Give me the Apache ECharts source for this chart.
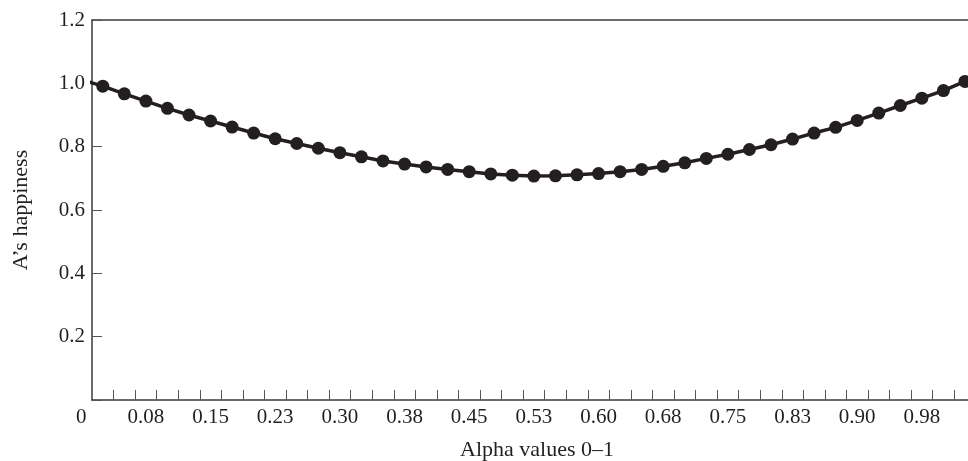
<!DOCTYPE html>
<html><head><meta charset="utf-8">
<script src="https://cdn.jsdelivr.net/npm/echarts@6/dist/echarts.min.js"></script>
<style>html,body{margin:0;padding:0;background:#fff}#c{width:968px;height:461px}</style>
</head><body><div id="c"></div>
<script>
// alpha value of each point (first one has no marker, line starts at the axis)
const alphaValues = [0, 0.025, 0.05, 0.075, 0.1, 0.125, 0.15, 0.175, 0.2, 0.225, 0.25,
  0.275, 0.3, 0.325, 0.35, 0.375, 0.4, 0.425, 0.45, 0.475, 0.5,
  0.525, 0.55, 0.575, 0.6, 0.625, 0.65, 0.675, 0.7, 0.725, 0.75,
  0.775, 0.8, 0.825, 0.85, 0.875, 0.9, 0.925, 0.95, 0.975, 1.0, 1.025];
const happiness = [1.012, 0.991, 0.967, 0.944, 0.921, 0.900, 0.881, 0.862, 0.843, 0.825, 0.810,
  0.795, 0.781, 0.768, 0.755, 0.745, 0.736, 0.728, 0.721, 0.714, 0.710,
  0.707, 0.708, 0.711, 0.715, 0.721, 0.728, 0.738, 0.749, 0.763, 0.776,
  0.791, 0.806, 0.824, 0.843, 0.861, 0.883, 0.906, 0.930, 0.953, 0.977, 1.006];
const xLabelValues = [0, 0.075, 0.15, 0.225, 0.3, 0.375, 0.45, 0.525, 0.6, 0.675, 0.75, 0.825, 0.9, 0.975];
const xLabelTexts = ['0', '0.08', '0.15', '0.23', '0.30', '0.38', '0.45', '0.53', '0.60', '0.68', '0.75', '0.83', '0.90', '0.98'];
const yLabelValues = [0, 0.2, 0.4, 0.6, 0.8, 1.0, 1.2];
const yLabelTexts = ['', '0.2', '0.4', '0.6', '0.8', '1.0', '1.2'];
const xName = 'Alpha values 0\u20131';
const yName = 'A\u2019s happiness';

const FONT = '"Liberation Serif", "Times New Roman", serif';
const TXT = '#231f20';
const AX = '#3a3a3a';

// tick marks sit at the boundaries between the points
const xTickValues = [];
for (let i = 1; i < alphaValues.length - 1; i++) xTickValues.push((alphaValues[i] + alphaValues[i + 1]) / 2);

const seriesData = alphaValues.map((a, i) => i === 0 ? { value: [a, happiness[i]], symbol: 'none' } : [a, happiness[i]]);

const chart = echarts.init(document.getElementById('c'), null, { renderer: 'canvas' });
const xMin = 0.0125, xMax = 1.0285;
chart.setOption({
  animation: false,
  backgroundColor: '#ffffff',
  grid: { left: 92, right: 0, top: 20, bottom: 61, outerBoundsMode: 'none', containLabel: false },
  xAxis: [{
    type: 'value', min: xMin, max: xMax, position: 'bottom',
    name: xName, nameLocation: 'middle', nameGap: 39,
    nameTextStyle: { fontFamily: FONT, fontSize: 22, color: TXT, padding: [0, 0, 0, 14] },
    axisLine: { show: true, lineStyle: { color: AX, width: 1.5 } },
    axisTick: { show: true, inside: true, length: 10, customValues: xTickValues, lineStyle: { color: '#555', width: 1 } },
    axisLabel: {
      show: true, customValues: xLabelValues.slice(1), margin: 7,
      fontFamily: FONT, fontSize: 21, color: TXT,
      formatter: v => { let best = 0; xLabelValues.forEach((x, i) => { if (Math.abs(x - v) < Math.abs(xLabelValues[best] - v)) best = i; }); return xLabelTexts[best]; }
    },
    splitLine: { show: false }
  }, {
    type: 'value', min: xMin, max: xMax, position: 'top',
    axisLine: { show: true, lineStyle: { color: AX, width: 1.5 } },
    axisTick: { show: false }, axisLabel: { show: false }, splitLine: { show: false }
  }],
  yAxis: {
    type: 'value', min: 0, max: 1.2, interval: 0.2,
    name: yName, nameLocation: 'middle', nameGap: 60, nameRotate: 90,
    nameTextStyle: { fontFamily: FONT, fontSize: 22, color: TXT },
    axisLine: { show: true, lineStyle: { color: AX, width: 1.5 } },
    axisTick: { show: true, inside: true, length: 10, lineStyle: { color: '#555', width: 1 } },
    axisLabel: {
      margin: 7, fontFamily: FONT, fontSize: 21, color: TXT,
      formatter: v => { const i = yLabelValues.findIndex(y => Math.abs(y - v) < 1e-6); return i >= 0 ? yLabelTexts[i] : ''; }
    },
    splitLine: { show: false }
  },
  series: [{
    type: 'line', xAxisIndex: 0, yAxisIndex: 0, data: seriesData, clip: true,
    symbol: 'circle', symbolSize: 13, showAllSymbol: true,
    lineStyle: { color: '#231f20', width: 3.5 },
    itemStyle: { color: '#231f20' }
  }]
});

// the "0" category label sits left of the plot, under the y-axis labels
const px = chart.convertToPixel({ xAxisIndex: 0 }, xLabelValues[0]);
const py = chart.convertToPixel({ yAxisIndex: 0 }, 0);
chart.setOption({
  graphic: [{
    type: 'text', x: px, y: py + 7,
    style: { text: xLabelTexts[0], align: 'center', verticalAlign: 'top', font: '21px ' + FONT, fill: TXT }
  }]
});
</script></body></html>
